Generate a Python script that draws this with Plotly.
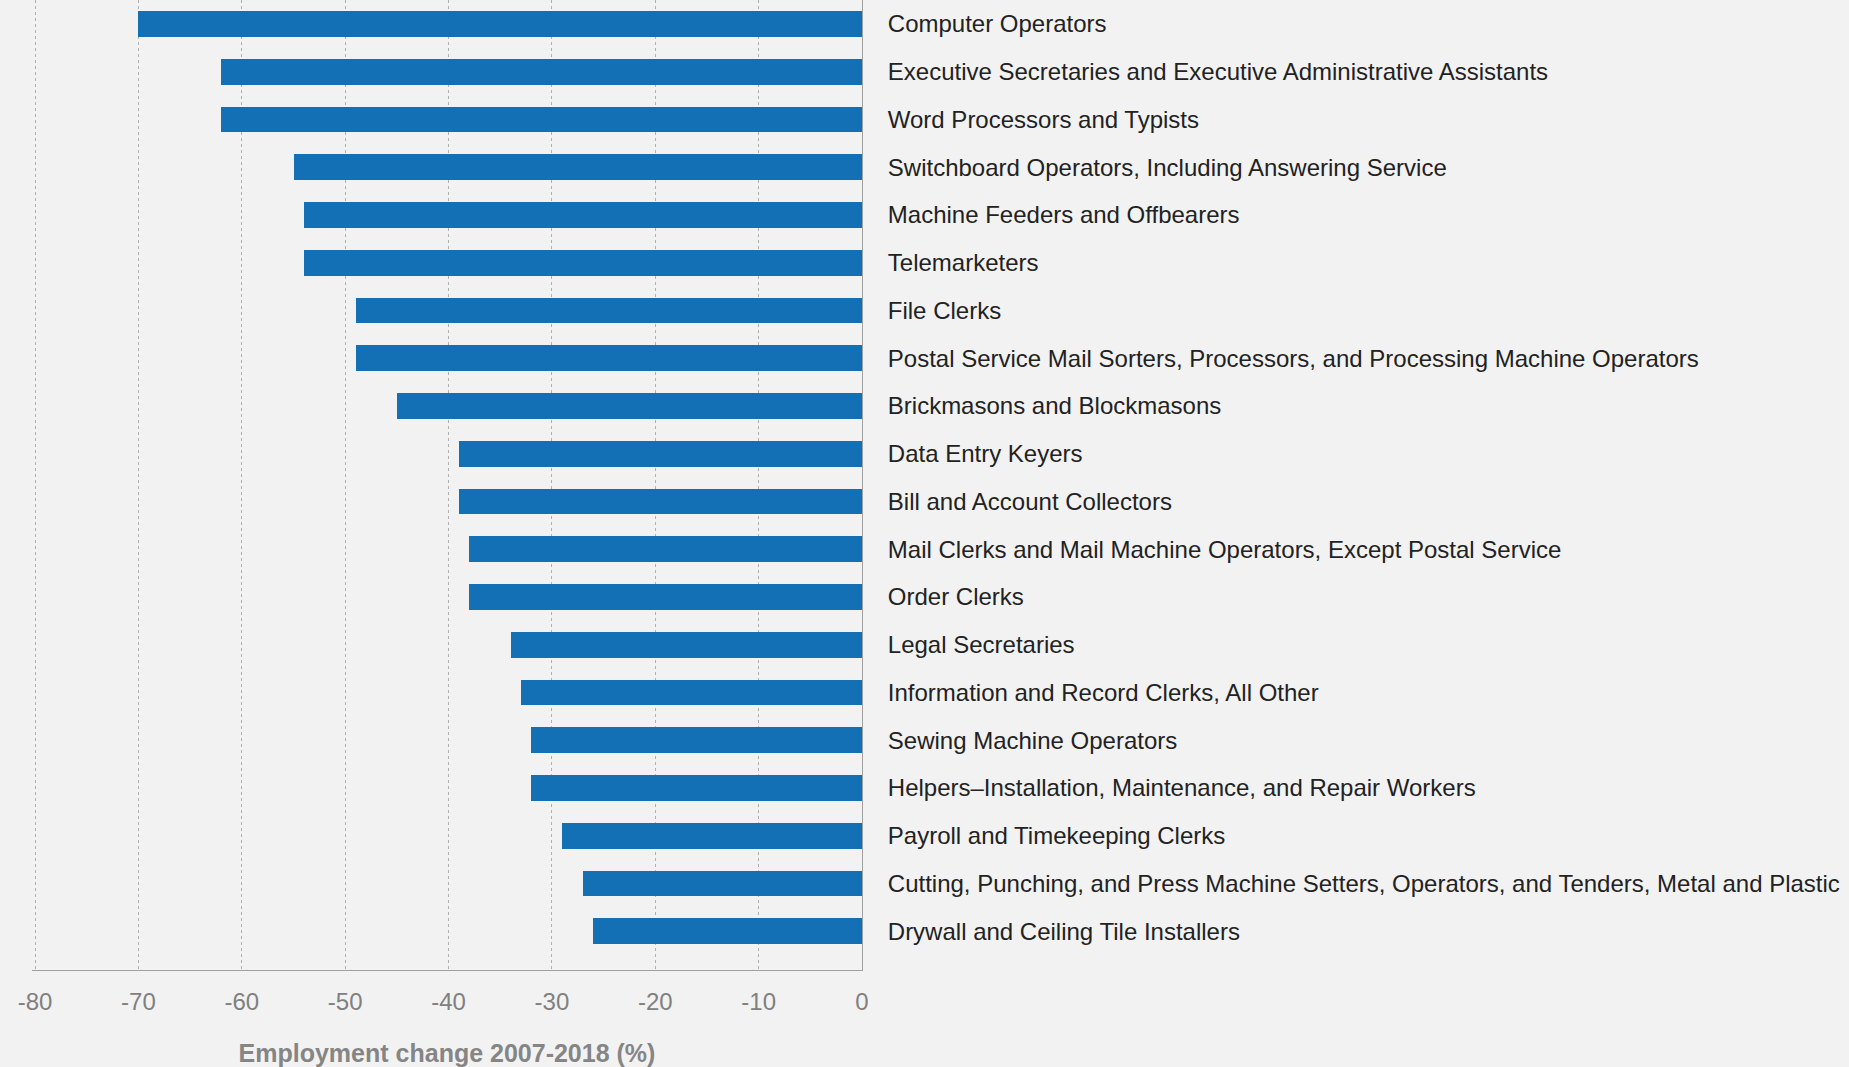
import plotly.graph_objects as go

occupations = [
    "Computer Operators",
    "Executive Secretaries and Executive Administrative Assistants",
    "Word Processors and Typists",
    "Switchboard Operators, Including Answering Service",
    "Machine Feeders and Offbearers",
    "Telemarketers",
    "File Clerks",
    "Postal Service Mail Sorters, Processors, and Processing Machine Operators",
    "Brickmasons and Blockmasons",
    "Data Entry Keyers",
    "Bill and Account Collectors",
    "Mail Clerks and Mail Machine Operators, Except Postal Service",
    "Order Clerks",
    "Legal Secretaries",
    "Information and Record Clerks, All Other",
    "Sewing Machine Operators",
    "Helpers\u2013Installation, Maintenance, and Repair Workers",
    "Payroll and Timekeeping Clerks",
    "Cutting, Punching, and Press Machine Setters, Operators, and Tenders, Metal and Plastic",
    "Drywall and Ceiling Tile Installers",
]
change_pct = [-70, -62, -62, -55, -54, -54, -49, -49, -45, -39,
              -39, -38, -38, -34, -33, -32, -32, -29, -27, -26]

x_tick_vals = [-80, -70, -60, -50, -40, -30, -20, -10, 0]
x_tick_text = ["-80", "-70", "-60", "-50", "-40", "-30", "-20", "-10", "0"]
x_title = "Employment change 2007-2018 (%)"

fig = go.Figure(go.Bar(
    x=change_pct,
    y=list(range(len(occupations))),
    orientation="h",
    marker=dict(color="#1370b5", line=dict(width=0)),
    width=0.54,
))

fig.update_layout(
    width=1849, height=1067,
    paper_bgcolor="#f2f2f2", plot_bgcolor="#f2f2f2",
    margin=dict(l=32, r=987, t=0, b=97),
    font=dict(family="Liberation Sans, Arial, sans-serif", color="#222222"),
    showlegend=False,
    bargap=0,
)
fig.update_xaxes(
    range=[-80.3, 0],
    tickvals=x_tick_vals, ticktext=x_tick_text,
    tickfont=dict(size=24, color="#808080"),
    showgrid=True, gridcolor="#b0b0b0", griddash="dot", gridwidth=1,
    zeroline=False,
    showline=True, linecolor="#a0a0a0", linewidth=1,
    ticks="", ticklabelstandoff=10,
    title=dict(text="<b>" + x_title + "</b>", font=dict(size=25, color="#858585"), standoff=30),
)
fig.update_yaxes(
    range=[len(occupations) - 0.19, -0.5],
    tickvals=list(range(len(occupations))), ticktext=occupations,
    side="right",
    tickfont=dict(size=24, color="#222222"),
    showgrid=False, zeroline=False,
    showline=True, linecolor="#a0a0a0", linewidth=1,
    ticks="", ticklabelstandoff=20,
)

fig.write_html(
    "out.html",
    config={"displayModeBar": False},
    post_script="document.body.style.margin='0';document.body.style.background='#f2f2f2';",
)
